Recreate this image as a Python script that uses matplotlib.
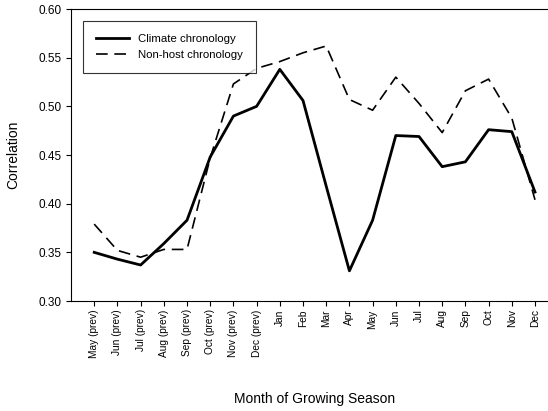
import matplotlib
matplotlib.use("Agg")
import matplotlib.pyplot as plt

plt.rcParams['font.family'] = ['Liberation Sans', 'DejaVu Sans']

months = ["May (prev)", "Jun (prev)", "Jul (prev)", "Aug (prev)", "Sep (prev)",
          "Oct (prev)", "Nov (prev)", "Dec (prev)", "Jan", "Feb", "Mar", "Apr",
          "May", "Jun", "Jul", "Aug", "Sep", "Oct", "Nov", "Dec"]
climate = [0.350, 0.343, 0.337, 0.359, 0.383, 0.448, 0.490, 0.500, 0.538, 0.506,
           0.418, 0.331, 0.383, 0.470, 0.469, 0.438, 0.443, 0.476, 0.474, 0.412]
nonhost = [0.379, 0.352, 0.345, 0.353, 0.353, 0.447, 0.523, 0.539, 0.546, 0.555,
           0.562, 0.507, 0.496, 0.530, 0.503, 0.473, 0.516, 0.528, 0.488, 0.404]
yticks = [0.30, 0.35, 0.40, 0.45, 0.50, 0.55, 0.60]

fig = plt.figure(figsize=(5.48, 4.11), dpi=100)
ax = fig.add_axes([0.1296, 0.2676, 0.889, 0.7105])

x = list(range(len(months)))
ax.plot(x, climate, color='black', lw=2.0, label='Climate chronology')
ax.plot(x, nonhost, color='black', lw=1.2, dashes=(7, 4), label='Non-host chronology')

ax.set_xlim(-1, 20)
ax.set_ylim(0.30, 0.60)
ax.set_xticks(x)
ax.set_xticklabels(months, rotation=90, fontsize=7.3)
ax.set_yticks(yticks)
ax.set_yticklabels([f"{v:.2f}" for v in yticks], fontsize=8.5)
ax.tick_params(direction='out', length=3.5, width=0.8)
ax.tick_params(axis='x', pad=2.5)
ax.spines['right'].set_visible(False)
for s in ax.spines.values():
    s.set_linewidth(0.8)

ax.set_ylabel('Correlation', fontsize=10)
ax.yaxis.set_label_coords(-0.105, 0.5)
ax.set_xlabel('Month of Growing Season', fontsize=10)
ax.xaxis.set_label_coords(0.5, -0.31)

leg = ax.legend(loc='upper left', bbox_to_anchor=(0.025, 0.959), borderaxespad=0,
                fontsize=8.2, frameon=True, fancybox=False, edgecolor='black',
                handlelength=2.9, handletextpad=0.8, borderpad=1.15,
                labelspacing=0.55)
leg.get_frame().set_linewidth(0.8)

fig.savefig('out.png', dpi=100)
